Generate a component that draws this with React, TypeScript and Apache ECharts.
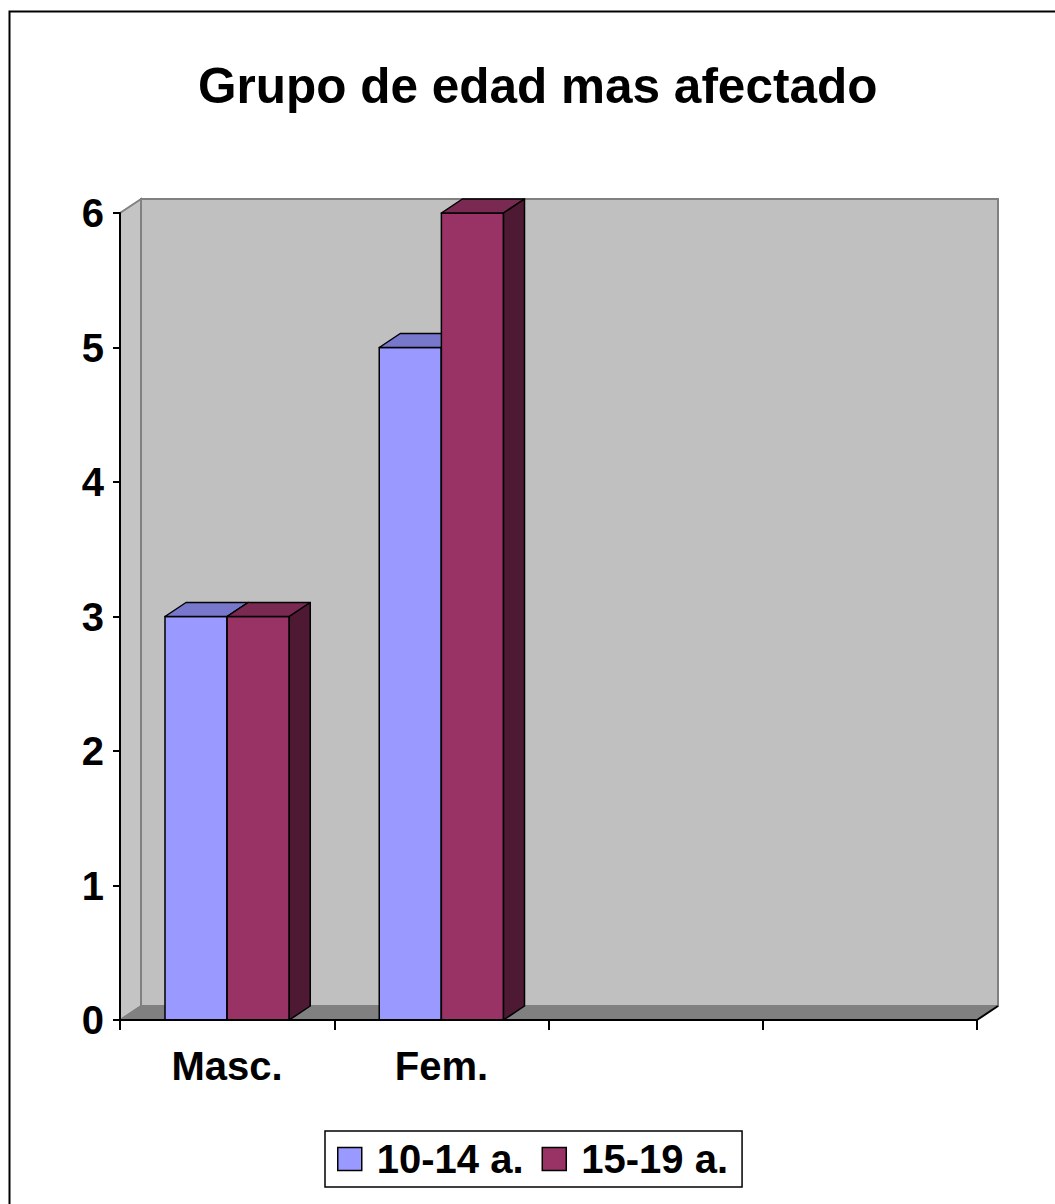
import React, { useEffect, useRef } from "react";
import * as echarts from "echarts";

const titleText = "Grupo de edad mas afectado";
const categories = ["Masc.", "Fem.", "", ""];
const seriesNames = ["10-14 a.", "15-19 a."];
const values1014 = [3, 5, null, null];
const values1519 = [3, 6, null, null];
const yMin = 0;
const yMax = 6;
const yInterval = 1;

const FONT = "'Liberation Sans', Arial, Helvetica, sans-serif";
const DX = 21;
const DY = 14;

const palettes = [
  { front: "#9999FF", top: "#7777CC", side: "#5C5C99" },
  { front: "#993366", top: "#7A2952", side: "#4D1933" },
];

function toData(vals: (number | null)[]) {
  const out: number[][] = [];
  vals.forEach((v, i) => {
    if (v !== null) out.push([i, v]);
  });
  return out;
}

function makeBarRender(slot: number) {
  const pal = palettes[slot];
  return (params: any, api: any) => {
    const cat = api.value(0);
    const val = api.value(1);
    const top = api.coord([cat, val]);
    const base = api.coord([cat, 0]);
    const bw = api.size([1, 0])[0];
    const barW = bw * 0.29;
    const x0 = top[0] - barW + slot * barW;
    const y = top[1];
    const y0 = base[1];
    const line = { stroke: "#000", lineWidth: 1.5, lineJoin: "round" };
    return {
      type: "group",
      children: [
        {
          type: "rect",
          shape: { x: x0, y, width: barW, height: y0 - y },
          style: { fill: pal.front, ...line },
        },
        {
          type: "polygon",
          shape: {
            points: [
              [x0, y],
              [x0 + DX, y - DY],
              [x0 + barW + DX, y - DY],
              [x0 + barW, y],
            ],
          },
          style: { fill: pal.top, ...line },
        },
        {
          type: "polygon",
          shape: {
            points: [
              [x0 + barW, y],
              [x0 + barW + DX, y - DY],
              [x0 + barW + DX, y0 - DY],
              [x0 + barW, y0],
            ],
          },
          style: { fill: pal.side, ...line },
        },
      ],
    };
  };
}

function renderWalls(params: any, api: any) {
  const bw = api.size([1, 0])[0];
  const first = api.coord([0, yMin]);
  const last = api.coord([categories.length - 1, yMax]);
  const left = first[0] - bw / 2;
  const right = last[0] + bw / 2;
  const y0 = first[1];
  const yt = last[1];
  const grey = { stroke: "#808080", lineWidth: 2 };
  return {
    type: "group",
    children: [
      {
        type: "rect",
        shape: { x: left + DX, y: yt - DY, width: right - left, height: y0 - yt },
        style: { fill: "#C0C0C0", ...grey },
      },
      {
        type: "polygon",
        shape: {
          points: [
            [left, yt],
            [left + DX, yt - DY],
            [left + DX, y0 - DY],
            [left, y0],
          ],
        },
        style: { fill: "#C4C4C4", ...grey },
      },
      {
        type: "polygon",
        shape: {
          points: [
            [left, y0],
            [left + DX, y0 - DY],
            [right + DX, y0 - DY],
            [right, y0],
          ],
        },
        style: { fill: "#808080", stroke: "#808080", lineWidth: 1 },
      },
      {
        type: "line",
        shape: { x1: right, y1: y0, x2: right + DX, y2: y0 - DY },
        style: { stroke: "#000", lineWidth: 2 },
      },
    ],
  };
}

export default function App() {
  const ref = useRef<HTMLDivElement>(null);

  useEffect(() => {
    if (!ref.current) return;
    const chart = echarts.init(ref.current, null, { renderer: "svg" });
    const option: any = {
      animation: false,
      backgroundColor: "#FFFFFF",
      textStyle: { fontFamily: FONT },
      title: {
        text: titleText,
        left: 193,
        top: 55,
        textStyle: {
          fontFamily: FONT,
          fontSize: 49.5,
          fontWeight: "bold",
          color: "#000",
        },
      },
      graphic: [
        {
          type: "rect",
          left: 7,
          top: 9,
          shape: { width: 1100, height: 1300 },
          style: { fill: "none", stroke: "#000", lineWidth: 2 },
          z: 100,
        },
      ],
      legend: {
        data: seriesNames,
        left: 325,
        top: 1131,
        icon: "rect",
        itemWidth: 24,
        itemHeight: 23,
        itemGap: 18,
        padding: [8, 14, 8, 12],
        borderColor: "#000",
        borderWidth: 1.5,
        backgroundColor: "#FFFFFF",
        itemStyle: { borderColor: "#000", borderWidth: 1.5 },
        textStyle: {
          fontFamily: FONT,
          fontSize: 40,
          fontWeight: "bold",
          color: "#000",
          padding: [0, 0, 0, 10],
        },
      },
      grid: { left: 120, right: 78, top: 213, bottom: 184 },
      xAxis: {
        type: "category",
        data: categories,
        boundaryGap: true,
        axisLine: { show: true, lineStyle: { color: "#000", width: 2 } },
        axisTick: { show: true, length: 10, interval: 0, lineStyle: { color: "#000", width: 2 } },
        axisLabel: {
          interval: 0,
          margin: 26,
          fontFamily: FONT,
          fontSize: 40,
          fontWeight: "bold",
          color: "#000",
        },
        splitLine: { show: false },
        z: 5,
      },
      yAxis: {
        type: "value",
        min: yMin,
        max: yMax,
        interval: yInterval,
        axisLine: { show: true, lineStyle: { color: "#000", width: 2 } },
        axisTick: { show: true, length: 7, lineStyle: { color: "#000", width: 2 } },
        axisLabel: {
          margin: 16,
          fontFamily: FONT,
          fontSize: 40,
          fontWeight: "bold",
          color: "#000",
        },
        splitLine: { show: false },
        z: 5,
      },
      series: [
        {
          type: "custom",
          name: "walls",
          z: -1,
          silent: true,
          renderItem: renderWalls,
          data: [[0, 0]],
          encode: { x: 0, y: 1 },
        },
        {
          type: "custom",
          name: seriesNames[0],
          z: 2,
          renderItem: makeBarRender(0),
          itemStyle: { color: palettes[0].front, borderColor: "#000", borderWidth: 1.5 },
          data: toData(values1014),
          encode: { x: 0, y: 1 },
        },
        {
          type: "custom",
          name: seriesNames[1],
          z: 3,
          renderItem: makeBarRender(1),
          itemStyle: { color: palettes[1].front, borderColor: "#000", borderWidth: 1.5 },
          data: toData(values1519),
          encode: { x: 0, y: 1 },
        },
      ],
    };
    chart.setOption(option);
    return () => chart.dispose();
  }, []);

  return (
    <div
      ref={ref}
      style={{ position: "absolute", left: 0, top: 0, width: 1055, height: 1204 }}
    />
  );
}
